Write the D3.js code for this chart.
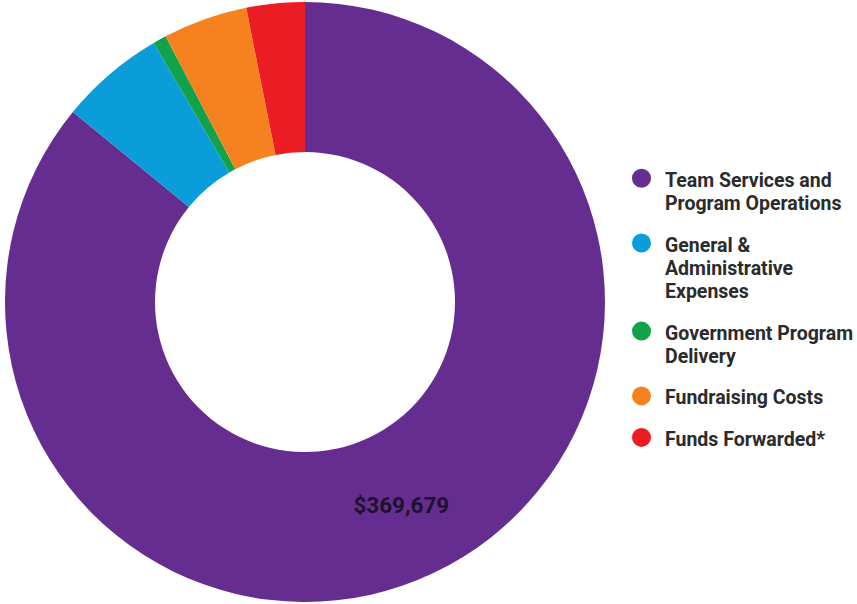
<!DOCTYPE html>
<html>
<head>
<meta charset="utf-8">
<script src="https://cdn.jsdelivr.net/npm/d3@7"></script>
<style>
  html, body { margin: 0; padding: 0; background: #fff; }
  svg { display: block; }
</style>
</head>
<body>
<div id="chart"></div>
<script>
// Expense breakdown
const categories = [
    "Team Services and Program Operations",
    "General & Administrative Expenses",
    "Government Program Delivery",
    "Fundraising Costs",
    "Funds Forwarded*"
];
const values = [369679, 24400, 3100, 19600, 13500];
const colors = ["#662d91", "#0b9dd9", "#12a24b", "#f5821f", "#ec1c24"];
const legendLines = [
    ["Team Services and", "Program Operations"],
    ["General &", "Administrative", "Expenses"],
    ["Government Program", "Delivery"],
    ["Fundraising Costs"],
    ["Funds Forwarded*"]
];
const sliceLabels = ["$369,679", "", "", "", ""];

const width = 857, height = 604;
const cx = 305, cy = 302;
const outerR = 300, innerR = 150;

const data = categories.map((c, i) => ({
    name: c, value: values[i], color: colors[i], lines: legendLines[i], label: sliceLabels[i]
}));

const svg = d3.select("#chart")
    .append("svg")
    .attr("width", width)
    .attr("height", height);

const g = svg.append("g")
    .attr("transform", `translate(${cx}, ${cy})`);

const pie = d3.pie()
    .value(d => d.value)
    .sort(null);

const arc = d3.arc()
    .innerRadius(innerR)
    .outerRadius(outerR);

const arcs = pie(data);

g.selectAll(".slice")
    .data(arcs)
    .enter()
    .append("path")
    .attr("class", "slice")
    .attr("d", arc)
    .style("fill", d => d.data.color);

// Value label on the big slice
g.selectAll(".slice-label")
    .data(arcs.filter(d => d.data.label))
    .enter()
    .append("text")
    .attr("class", "slice-label")
    .attr("transform", d => `translate(${arc.centroid(d)})`)
    .attr("dy", "0.35em")
    .style("text-anchor", "middle")
    .style("font-family", "Roboto, sans-serif")
    .style("font-weight", "700")
    .style("font-size", "22.5px")
    .style("fill", "#1c1230")
    .text(d => d.data.label);

// Legend
const legend = svg.append("g").attr("class", "legend");
const lineHeight = 23.3;
const itemGap = 18.2;
let y = 186.7;

data.forEach(d => {
    const item = legend.append("g").attr("class", "legend-item");
    item.append("circle")
        .attr("cx", 641.5)
        .attr("cy", y - 8.5)
        .attr("r", 9.5)
        .style("fill", d.color);
    const text = item.append("text")
        .attr("x", 665)
        .attr("y", y)
        .style("font-family", "Roboto, sans-serif")
        .style("font-weight", "700")
        .style("font-size", "19.5px")
        .style("fill", "#2b2b2b");
    d.lines.forEach((line, i) => {
        text.append("tspan")
            .attr("x", 665)
            .attr("dy", i === 0 ? 0 : lineHeight)
            .text(line);
    });
    y += d.lines.length * lineHeight + itemGap;
});
</script>
</body>
</html>
